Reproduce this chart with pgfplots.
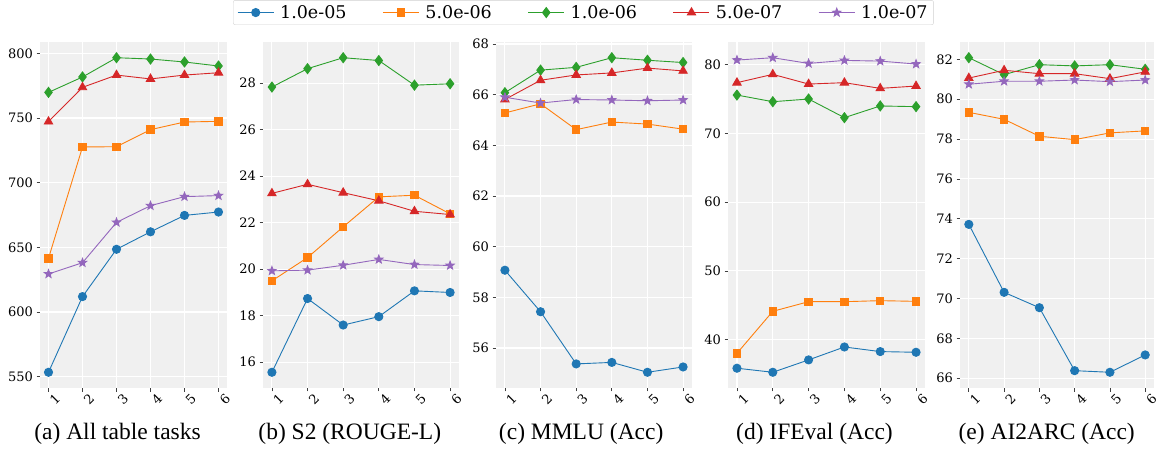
\documentclass[border=0pt]{standalone}
\usepackage{pgfplots}
\usepackage{pgfplotstable}
\pgfplotsset{compat=1.18}
\usepackage{fontspec}
\setmainfont{DejaVu Serif}
\newfontfamily\capfont{Liberation Serif}

\definecolor{tabblue}{HTML}{1F77B4}
\definecolor{taborange}{HTML}{FF7F0E}
\definecolor{tabgreen}{HTML}{2CA02C}
\definecolor{tabred}{HTML}{D62728}
\definecolor{tabpurple}{HTML}{9467BD}
\definecolor{bggray}{RGB}{240,240,240}

% filled five-point star
\pgfdeclareplotmark{fstar}{%
  \pgfpathmoveto{\pgfpointpolar{90}{\pgfplotmarksize}}%
  \pgfpathlineto{\pgfpointpolar{126}{0.42\pgfplotmarksize}}%
  \pgfpathlineto{\pgfpointpolar{162}{\pgfplotmarksize}}%
  \pgfpathlineto{\pgfpointpolar{198}{0.42\pgfplotmarksize}}%
  \pgfpathlineto{\pgfpointpolar{234}{\pgfplotmarksize}}%
  \pgfpathlineto{\pgfpointpolar{270}{0.42\pgfplotmarksize}}%
  \pgfpathlineto{\pgfpointpolar{306}{\pgfplotmarksize}}%
  \pgfpathlineto{\pgfpointpolar{342}{0.42\pgfplotmarksize}}%
  \pgfpathlineto{\pgfpointpolar{18}{\pgfplotmarksize}}%
  \pgfpathlineto{\pgfpointpolar{54}{0.42\pgfplotmarksize}}%
  \pgfpathclose\pgfusepathqfillstroke}

% columns: 1.0e-05, 5.0e-06, 1.0e-06, 5.0e-07, 1.0e-07
\pgfplotstableread{
x A B C D E
1 553.4 641.5 769.8 747.2 629.4
2 611.9 727.6 781.7 773.7 638.1
3 648.5 727.8 796.6 783.2 669.3
4 662.0 741.0 795.6 780.2 682.2
5 674.7 746.9 793.3 783.2 689.2
6 677.3 747.4 790.2 785.0 690.0
}\tabA
\pgfplotstableread{
x A B C D E
1 15.57 19.50 27.83 23.26 19.93
2 18.74 20.50 28.62 23.65 19.96
3 17.60 21.82 29.09 23.29 20.17
4 17.96 23.11 28.97 22.94 20.42
5 19.07 23.18 27.91 22.49 20.20
6 19.00 22.38 27.97 22.35 20.16
}\tabB
\pgfplotstableread{
x A B C D E
1 59.07 65.28 66.08 65.81 65.90
2 57.43 65.64 66.97 66.57 65.67
3 55.37 64.62 67.08 66.78 65.81
4 55.43 64.92 67.46 66.86 65.79
5 55.04 64.84 67.36 67.05 65.76
6 55.25 64.64 67.27 66.94 65.79
}\tabC
\pgfplotstableread{
x A B C D E
1 35.84 38.01 75.59 77.39 80.68
2 35.25 44.12 74.62 78.60 81.02
3 37.05 45.52 75.01 77.19 80.19
4 38.93 45.52 72.30 77.39 80.63
5 38.26 45.67 74.00 76.56 80.53
6 38.16 45.57 73.90 76.90 80.10
}\tabD
\pgfplotstableread{
x A B C D E
1 73.72 79.34 82.08 81.06 80.75
2 70.31 78.99 81.23 81.45 80.90
3 69.54 78.14 81.73 81.28 80.90
4 66.38 77.97 81.67 81.28 80.96
5 66.30 78.31 81.73 81.03 80.88
6 67.17 78.41 81.50 81.37 80.96
}\tabE

\pgfplotsset{
  panel/.style={
    scale only axis, height=346bp, anchor=south west,
    axis background/.style={fill=bggray},
    axis line style={draw=none},
    grid=major, major grid style={white, line width=1.1bp},
    tick pos=left, tick align=outside, major tick length=3.5bp,
    tick style={black!75, line width=0.7bp},
    xtick={1,...,6},
    enlargelimits=0.05,
    /pgf/number format/assume math mode=true,
    xticklabel style={rotate=45, anchor=center, inner sep=1bp, yshift=-10bp, xshift=-1bp, font=\fontsize{13bp}{15bp}\selectfont},
    yticklabel style={font=\fontsize{13bp}{15bp}\selectfont},
    every axis plot/.append style={line width=0.9bp},
    cycle list={
      {tabblue, mark=*, mark size=4.1bp},
      {taborange, mark=square*, mark size=3.7bp},
      {tabgreen, mark=diamond*, mark size=5bp},
      {tabred, mark=triangle*, mark size=4.8bp},
      {tabpurple, mark=fstar, mark size=4.3bp}},
  },
}

\newcommand\fiveplots[1]{%
  \addplot table[x=x,y=A] {#1};
  \addplot table[x=x,y=B] {#1};
  \addplot table[x=x,y=C] {#1};
  \addplot table[x=x,y=D] {#1};
  \addplot table[x=x,y=E] {#1};
}

\begin{document}
\begin{tikzpicture}
\useasboundingbox (0bp,0bp) rectangle (1158bp,450bp);

\begin{axis}[panel, at={(40bp,62bp)}, width=187bp, ytick={550,600,...,800}]
\fiveplots{\tabA}
\end{axis}

\begin{axis}[panel, at={(263bp,62bp)}, width=196bp, ytick={16,18,...,28}]
\fiveplots{\tabB}
\end{axis}

\begin{axis}[panel, at={(496bp,62bp)}, width=196bp, ytick={56,58,...,68},
  legend columns=5,
  legend style={at={(axis description cs:0.446,1.121)}, anchor=north,
    draw=black!18, rounded corners=2bp, fill=white,
    inner xsep=4bp, inner ysep=3bp,
    font=\fontsize{17.5bp}{21bp}\selectfont,
    /tikz/every odd column/.append style={column sep=4bp},
    /tikz/every even column/.append style={column sep=34bp}},
  legend image code/.code={\draw[mark repeat=2,mark phase=2] plot coordinates {(0bp,0bp) (18bp,0bp) (36bp,0bp)};}]
\fiveplots{\tabC}
\legend{1.0e-05,5.0e-06,1.0e-06,5.0e-07,1.0e-07}
\end{axis}

\begin{axis}[panel, at={(728bp,62bp)}, width=197bp, ytick={40,50,...,80}]
\fiveplots{\tabD}
\end{axis}

\begin{axis}[panel, at={(960bp,62bp)}, width=194bp, ytick={66,68,...,82}]
\fiveplots{\tabE}
\end{axis}

\begin{scope}[font=\capfont\fontsize{23.5bp}{28bp}\selectfont]
\node[anchor=base] at (117.5bp,11bp) {(a) All table tasks};
\node[anchor=base] at (349.8bp,11bp) {(b) S2 (ROUGE-L)};
\node[anchor=base] at (581.2bp,11bp) {(c) MMLU (Acc)};
\node[anchor=base] at (814.5bp,11bp) {(d) IFEval (Acc)};
\node[anchor=base] at (1046.7bp,11bp) {(e) AI2ARC (Acc)};
\end{scope}
\end{tikzpicture}
\end{document}
